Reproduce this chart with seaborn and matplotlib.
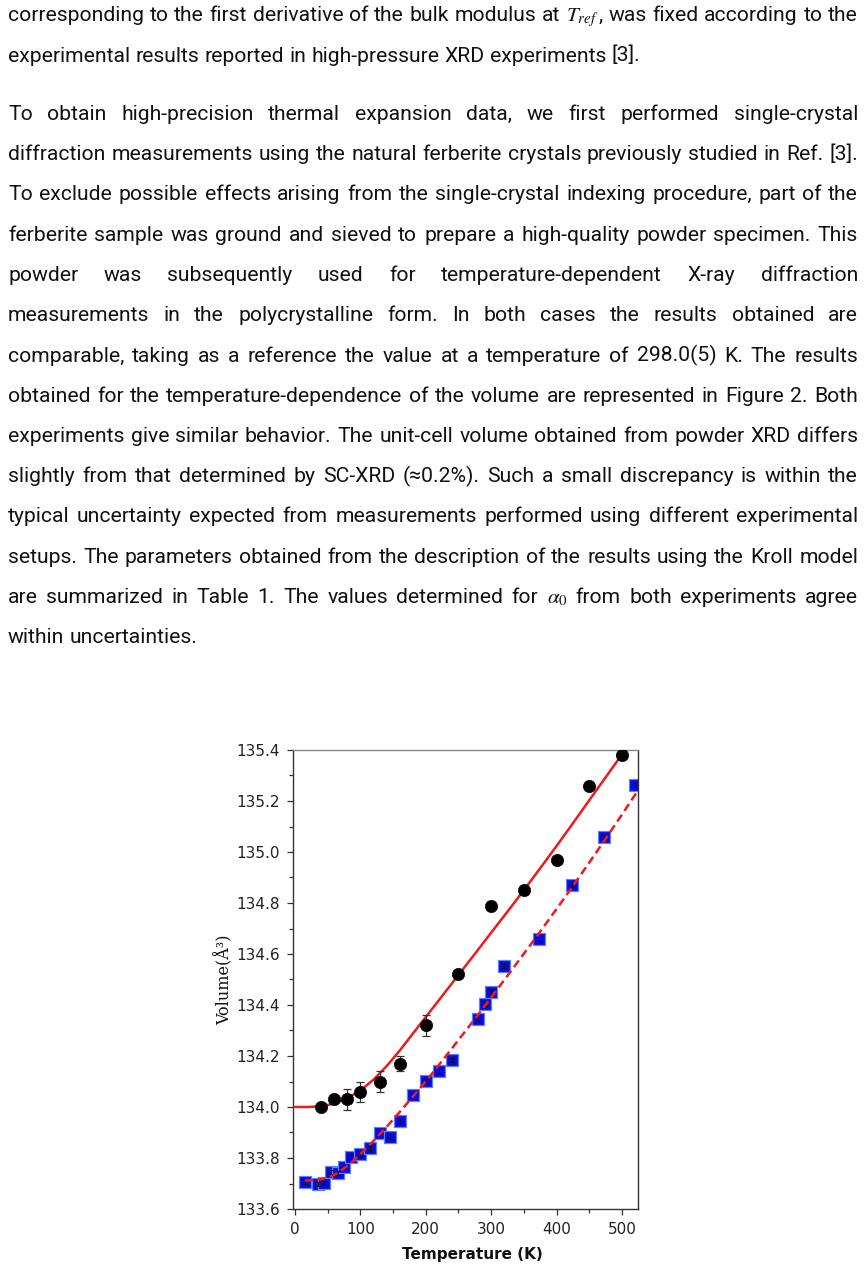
import re
import numpy as np
import pandas as pd
import matplotlib
matplotlib.use('Agg')
import matplotlib.pyplot as plt
from matplotlib.ticker import MultipleLocator, FormatStrFormatter
import seaborn as sns

# ---- page text ----
para1 = [
    "corresponding to the first derivative of the bulk modulus at $T_{ref}$, was fixed according to the",
    "experimental results reported in high-pressure XRD experiments [3].",
]
para2 = [
    "To obtain high-precision thermal expansion data, we first performed single-crystal",
    "diffraction measurements using the natural ferberite crystals previously studied in Ref. [3].",
    "To exclude possible effects arising from the single-crystal indexing procedure, part of the",
    "ferberite sample was ground and sieved to prepare a high-quality powder specimen. This",
    "powder was subsequently used for temperature-dependent X-ray diffraction",
    "measurements in the polycrystalline form. In both cases the results obtained are",
    "comparable, taking as a reference the value at a temperature of 298.0(5) K. The results",
    "obtained for the temperature-dependence of the volume are represented in Figure 2. Both",
    "experiments give similar behavior. The unit-cell volume obtained from powder XRD differs",
    "slightly from that determined by SC-XRD (\u22480.2%). Such a small discrepancy is within the",
    "typical uncertainty expected from measurements performed using different experimental",
    "setups. The parameters obtained from the description of the results using the Kroll model",
    "are summarized in Table 1. The values determined for $\\alpha_0$ from both experiments agree",
    "within uncertainties.",
]

# ---- chart data ----
# single-crystal XRD (black circles)
sc_T = [40, 60, 80, 100, 130, 160, 200, 250, 300, 350, 400, 450, 500]
sc_V = [134.00, 134.03, 134.03, 134.06, 134.10, 134.17, 134.32, 134.52, 134.79,
        134.85, 134.97, 135.26, 135.38]
sc_err = [0.012, 0.015, 0.04, 0.04, 0.04, 0.03, 0.04, 0.01, 0.01, 0.01, 0.01, 0.01, 0.01]

# powder XRD (blue squares)
pw_T = [15, 35, 45, 55, 65, 75, 85, 100, 115, 130, 145, 160, 180, 200, 220, 240,
        280, 290, 300, 320, 373, 423, 472, 520]
pw_V = [133.705, 133.697, 133.703, 133.746, 133.742, 133.766, 133.804, 133.817,
        133.838, 133.898, 133.882, 133.944, 134.046, 134.103, 134.140, 134.183,
        134.346, 134.405, 134.451, 134.553, 134.660, 134.871, 135.059, 135.264]
pw_err = [0.008] * len(pw_T)

# Kroll fits
fit_sc_T = [0, 20, 40, 60, 80, 100, 120, 140, 160, 180, 200, 220, 240, 260, 280,
            300, 320, 340, 360, 380, 400, 420, 440, 460, 480, 500, 506]
fit_sc_V = [134.000, 134.000, 134.003, 134.013, 134.034, 134.065, 134.107, 134.160,
            134.221, 134.287, 134.353, 134.419, 134.485, 134.551, 134.617, 134.684,
            134.750, 134.817, 134.885, 134.954, 135.024, 135.095, 135.167, 135.239,
            135.311, 135.383, 135.405]
fit_pw_T = [15, 20, 40, 60, 80, 100, 120, 140, 160, 180, 200, 220, 240, 260, 280,
            300, 320, 340, 360, 380, 400, 420, 440, 460, 480, 500, 524]
fit_pw_V = [133.712, 133.712, 133.716, 133.733, 133.768, 133.815, 133.867, 133.922,
            133.980, 134.040, 134.100, 134.165, 134.230, 134.296, 134.362, 134.430,
            134.498, 134.567, 134.636, 134.706, 134.777, 134.849, 134.922, 134.996,
            135.071, 135.147, 135.240]

sns.set_style('ticks')
plt.rcParams['mathtext.fontset'] = 'stix'

W, H = 864, 1271
fig = plt.figure(figsize=(8.64, 12.71), dpi=100)
fig.patch.set_facecolor('white')
renderer = fig.canvas.get_renderer()

BODY_FONT = ['Roboto', 'DejaVu Sans']
TEXT_COLOR = '#111111'


def text_w(s, size):
    t = fig.text(0, 0, s, fontsize=size, family=BODY_FONT)
    w = t.get_window_extent(renderer).width
    t.remove()
    return w


# match the width of the short last line of paragraph 1
fs = 14 * 638 / text_w(para1[1], 14)
space_w = text_w('a a', fs) - text_w('aa', fs)
LEFT, RIGHT = 8, 858


def draw_line(line, baseline, justify):
    words = line.split(' ')
    pieces = [[p for p in re.split(r'(\$[^$]*\$)', wd) if p] for wd in words]
    widths = [[text_w(p, fs) for p in ps] for ps in pieces]
    total = sum(sum(w) for w in widths)
    gap = (RIGHT - LEFT - total) / (len(words) - 1) if justify else space_w
    x = LEFT
    for ps, ws in zip(pieces, widths):
        for p, w in zip(ps, ws):
            fig.text(x / W, 1 - baseline / H, p, fontsize=fs, family=BODY_FONT,
                     color=TEXT_COLOR, ha='left', va='baseline')
            x += w
        x += gap


for i, line in enumerate(para1):
    draw_line(line, 21 + i * 40.5, justify=(i < len(para1) - 1))
for i, line in enumerate(para2):
    draw_line(line, 120 + i * 40.25, justify=(i < len(para2) - 1))

# ---- chart ----
ax = fig.add_axes([292.7 / W, 1 - 1209 / H, 345 / W, 459 / H])

ax.errorbar(pw_T, pw_V, yerr=pw_err, fmt='none', ecolor='#111111',
            elinewidth=0.7, capsize=1.6, capthick=0.7, zorder=2.5)
sns.scatterplot(x=pw_T, y=pw_V, marker='s', s=70, color='#0a0ad6',
                edgecolor='#6080ff', linewidth=0.9, zorder=2, ax=ax)

sns.lineplot(x=fit_pw_T, y=fit_pw_V, color='#ee1b1b', linewidth=1.8,
             estimator=None, zorder=3, ax=ax)
ax.lines[-1].set_dashes([3.3, 1.8])
sns.lineplot(x=fit_sc_T, y=fit_sc_V, color='#ee1b1b', linewidth=1.8,
             estimator=None, zorder=3, ax=ax)

ax.errorbar(sc_T, sc_V, yerr=sc_err, fmt='none', ecolor='#333333',
            elinewidth=0.9, capsize=3, capthick=0.9, zorder=3.5)
sns.scatterplot(x=sc_T, y=sc_V, marker='o', s=78, color='black',
                edgecolor='black', linewidth=0.5, zorder=4, ax=ax)

ax.set_xlim(-3.5, 524)
ax.set_ylim(133.6, 135.4)
ax.xaxis.set_major_locator(MultipleLocator(100))
ax.xaxis.set_minor_locator(MultipleLocator(50))
ax.yaxis.set_major_locator(MultipleLocator(0.2))
ax.yaxis.set_minor_locator(MultipleLocator(0.1))
ax.yaxis.set_major_formatter(FormatStrFormatter('%.1f'))

ax.tick_params(which='major', direction='out', length=4.3, width=0.9,
               color='#333333', labelsize=11, labelcolor='#222222', pad=5,
               top=False, right=False)
ax.tick_params(which='minor', direction='out', length=2.9, width=0.9,
               color='#333333', top=False, right=False)

for side in ['left', 'bottom', 'right']:
    ax.spines[side].set_color('#333333')
    ax.spines[side].set_linewidth(1.0)
ax.spines['top'].set_color('#888888')
ax.spines['top'].set_linewidth(1.0)

ax.set_xlabel('Temperature (K)', fontsize=11, fontweight='bold',
              color='#111111', labelpad=4)
ax.xaxis.set_label_coords(0.52, -0.082)
ax.set_ylabel('Volume(\u00c5\u00b3)', fontsize=11.5, family='DejaVu Serif',
              color='#111111')
ax.yaxis.set_label_coords(-0.172, 0.5)

fig.savefig('out.png', dpi=100)
plt.close(fig)
